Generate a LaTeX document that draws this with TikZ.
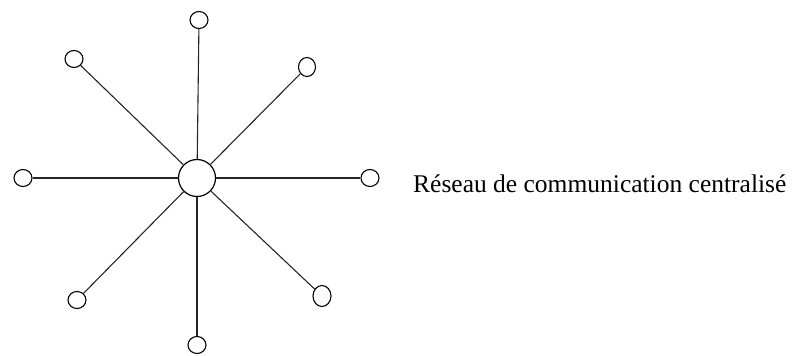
\documentclass[tikz,border=0pt]{standalone}
\usepackage{fontspec}
\setmainfont{Liberation Serif}
\usetikzlibrary{shapes.geometric}
\begin{document}
\begin{tikzpicture}[x=1pt,y=-1pt,
  hub/.style={draw=black,line width=1.2pt,circle,minimum size=37pt,inner sep=0pt},
  leaf/.style={draw=black,line width=1.1pt,ellipse,minimum width=18pt,minimum height=17pt,inner sep=0pt},
  link/.style={draw=black!85,line width=1.1pt}]
\useasboundingbox (0,0) rectangle (801,356);
\node[hub] (c) at (197,178) {};
\node[leaf] (n) at (199,20) {};
\node[leaf] (nw) at (74,59) {};
\node[leaf,minimum width=17pt,minimum height=19pt] (ne) at (307,67) {};
\node[leaf] (w) at (23,178) {};
\node[leaf] (e) at (370,178) {};
\node[leaf] (sw) at (77,300) {};
\node[leaf] (s) at (197,345) {};
\node[leaf,minimum width=18pt,minimum height=21pt] (se) at (322,296) {};
\foreach \o in {n,nw,ne,w,e,sw,s,se} \draw[link] (c) -- (\o);
\node[anchor=base west,inner sep=0pt,font=\fontsize{25.5}{30}\selectfont] (t) at (413,192) {Réseau de communication centralisé};
\end{tikzpicture}
\end{document}
